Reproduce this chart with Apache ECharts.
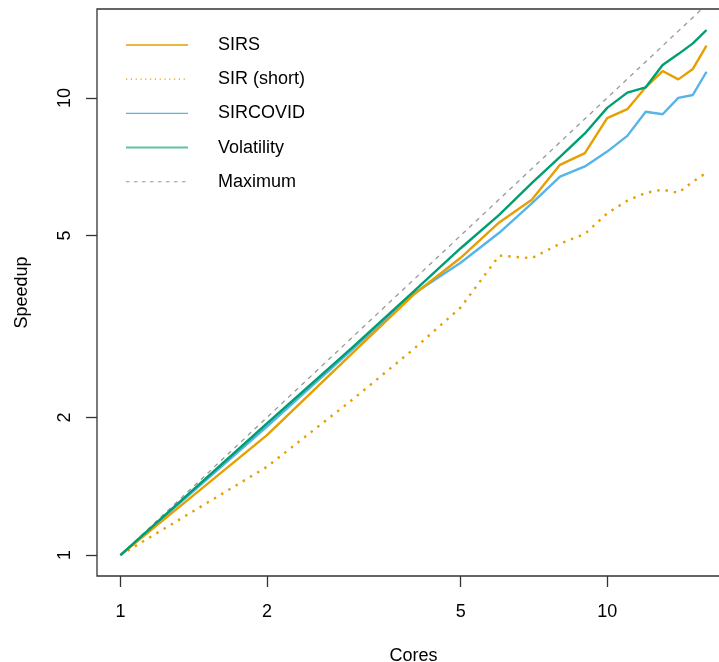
<!DOCTYPE html>
<html>
<head>
<meta charset="utf-8">
<script src="https://cdn.jsdelivr.net/npm/echarts@6/dist/echarts.min.js"></script>
<style>
html,body{margin:0;padding:0;background:#fff;}
#chart{width:719px;height:662px;}
</style>
</head>
<body>
<div id="chart"></div>
<script>
const cores = [1,2,3,4,5,6,7,8,9,10,11,12,13,14,15,16];
const sirs = [1, 1.83, 2.77, 3.71, 4.47, 5.34, 5.99, 7.14, 7.57, 9.03, 9.45, 10.55, 11.45, 10.98, 11.57, 13.01];
const sirShort = [1, 1.56, 2.19, 2.82, 3.48, 4.52, 4.46, 4.80, 5.04, 5.59, 5.96, 6.2, 6.3, 6.2, 6.56, 6.86];
const sircovid = [1, 1.91, 2.82, 3.73, 4.36, 5.07, 5.88, 6.73, 7.08, 7.63, 8.26, 9.33, 9.21, 10.0, 10.15, 11.41];
const volatility = [1, 1.94, 2.85, 3.77, 4.69, 5.55, 6.51, 7.43, 8.36, 9.51, 10.27, 10.55, 11.8, 12.47, 13.16, 14.08];
const maximum = [1,2,3,4,5,6,7,8,9,10,11,12,13,14,15,16];
const xTicks = [1, 2, 5, 10];
const yTicks = [1, 2, 5, 10];

const FONT = "'Liberation Sans', Arial, Helvetica, sans-serif";
const pairs = ys => cores.map((c, i) => [c, ys[i]]);
const noSym = { color: 'rgba(0,0,0,0)', borderColor: 'rgba(0,0,0,0)', borderWidth: 0 };

const chart = echarts.init(document.getElementById('chart'));
chart.setOption({
  animation: false,
  backgroundColor: '#fff',
  grid: {
    left: 97, top: 9, width: 633, height: 567,
    outerBoundsMode: 'none', containLabel: false,
    show: true, borderColor: '#333', borderWidth: 1.3, backgroundColor: 'transparent'
  },
  legend: {
    orient: 'vertical',
    left: 120, top: 31,
    itemWidth: 62, itemHeight: 18, itemGap: 16.2,
    itemStyle: noSym,
    lineStyle: { width: 1.2 },
    formatter: '{a|{name}}',
    textStyle: { fontFamily: FONT, fontSize: 18, color: '#000',
      rich: { a: { fontFamily: FONT, fontSize: 18, color: '#000', padding: [0, 0, 0, 25] } } },
    data: [
      { name: 'SIRS', itemStyle: noSym, lineStyle: { width: 1.3 } },
      { name: 'SIR (short)', itemStyle: noSym, lineStyle: { width: 1.2, type: [1.2, 3.6] } },
      { name: 'SIRCOVID', itemStyle: noSym, lineStyle: { width: 1.3 } },
      { name: 'Volatility', itemStyle: noSym, lineStyle: { width: 2, color: '#5fc2a5' } },
      { name: 'Maximum', itemStyle: noSym, lineStyle: { width: 1.1, type: [3.5, 4.5] } }
    ],
    selectedMode: false
  },
  xAxis: {
    type: 'log', logBase: 10, min: 0.895, max: 17.88,
    name: 'Cores', nameLocation: 'middle', nameGap: 71,
    nameTextStyle: { fontFamily: FONT, fontSize: 18, color: '#000' },
    axisLine: { show: false },
    axisTick: { show: true, inside: false, length: 11, customValues: xTicks, lineStyle: { color: '#333', width: 1.3 } },
    axisLabel: { customValues: xTicks, fontFamily: FONT, fontSize: 18, color: '#000', margin: 27, formatter: v => String(v) },
    splitLine: { show: false },
    minorTick: { show: false }
  },
  yAxis: {
    type: 'log', logBase: 10, min: 0.8999, max: 15.65,
    name: 'Speedup', nameLocation: 'middle', nameGap: 66,
    nameTextStyle: { fontFamily: FONT, fontSize: 18, color: '#000' },
    axisLine: { show: false },
    axisTick: { show: true, inside: false, length: 11, customValues: yTicks, lineStyle: { color: '#333', width: 1.3 } },
    axisLabel: { customValues: yTicks, rotate: 90, fontFamily: FONT, fontSize: 18, color: '#000', margin: 23, formatter: v => String(v) },
    splitLine: { show: false }
  },
  series: [
    { name: 'Maximum', type: 'line', data: pairs(maximum), symbol: 'none', clip: true,
      lineStyle: { color: '#999999', width: 1.3, type: [4.5, 4.7] }, itemStyle: { color: '#999999' } },
    { name: 'SIR (short)', type: 'line', data: pairs(sirShort), symbol: 'none', clip: true,
      lineStyle: { color: '#E69F00', width: 2.4, type: [2.4, 6] }, itemStyle: { color: '#E69F00' } },
    { name: 'SIRCOVID', type: 'line', data: pairs(sircovid), symbol: 'none', clip: true,
      lineStyle: { color: '#56B4E9', width: 2.4 }, itemStyle: { color: '#56B4E9' } },
    { name: 'SIRS', type: 'line', data: pairs(sirs), symbol: 'none', clip: true,
      lineStyle: { color: '#E69F00', width: 2.4 }, itemStyle: { color: '#E69F00' } },
    { name: 'Volatility', type: 'line', data: pairs(volatility), symbol: 'none', clip: true,
      lineStyle: { color: '#009E73', width: 2.4 }, itemStyle: { color: '#009E73' } }
  ]
});
</script>
</body>
</html>
